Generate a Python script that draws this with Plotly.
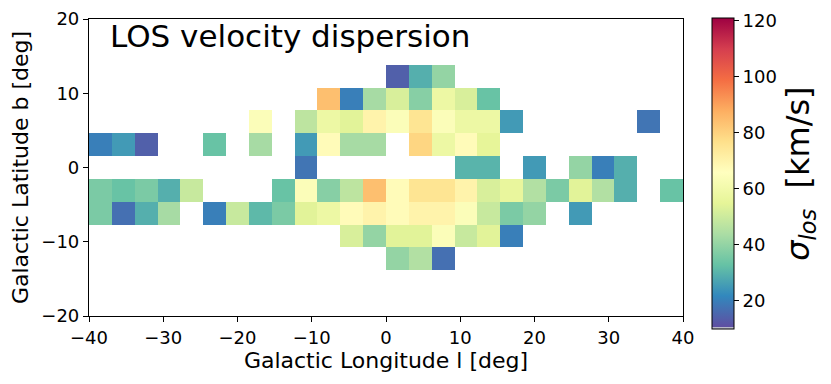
import numpy as np
import plotly.graph_objects as go
from plotly.colors import diverging

N = None

# bin grid: 26 x 13 square cells over l in [-40, 40], b in [-20, 20]
l_edges = np.linspace(-40, 40, 27)
b_edges = np.linspace(-20, 20, 14)

# sigma_los [km/s] per latitude row, listed from l = -40 to l = +40
row_b_m18 = [N] * 26
row_b_m15 = [N] * 26
row_b_m12 = [N] * 13 + [40, 45, 17] + [N] * 10
row_b_m09 = [N] * 11 + [52, 40, 54, 54, 64, 49, 54, 20] + [N] * 7
row_b_m06 = [36, 17, 29, 43, N, 20, 49, 31, 36, 54, 58, 67, 70,
             67, 70, 70, 64, 49, 36, 40, N, 25, N, N, N, N]
row_b_m03 = [36, 33, 36, 29, 49, N, N, N, 33, 64, 38, 47, 84,
             67, 75, 75, 70, 52, 56, 45, 36, 54, 45, 29, N, 33]
row_b_p00 = [N] * 9 + [18] + [N] * 6 + [30, 30, N, 25, N, 40, 20, 29] + [N] * 2
row_b_p03 = [20, 25, 14, N, N, 33, N, 43, N, 25, 67, 43, 43,
             N, 79, 58, 67, 55] + [N] * 8
row_b_p06 = [N] * 7 + [64, N, 47, 58, 54, 70, 64, 75, 64, 58, 58, 25] + [N] * 5 + [18, N]
row_b_p09 = [N] * 10 + [84, 20, 43, 52, 38, 58, 52, 33] + [N] * 8
row_b_p12 = [N] * 13 + [14, 29, 40] + [N] * 10
row_b_p15 = [N] * 26
row_b_p18 = [N] * 26

sigma = [row_b_m18, row_b_m15, row_b_m12, row_b_m09, row_b_m06, row_b_m03,
         row_b_p00, row_b_p03, row_b_p06, row_b_p09, row_b_p12, row_b_p15,
         row_b_p18]

cb_ticks = [20, 40, 60, 80, 100, 120]

# matplotlib Spectral_r, with a thin grey "under" strip at the bottom
spec = diverging.Spectral[::-1]
under = 0.0075
cscale = [[0.0, "#b9b9c9"], [under, "#b9b9c9"]]
for k, c in enumerate(spec):
    cscale.append([under + (1 - under) * k / (len(spec) - 1), c])

FONT = "DejaVu Sans"

fig = go.Figure(go.Heatmap(
    x=l_edges, y=b_edges, z=sigma,
    colorscale=cscale, zmin=9.8, zmax=120.8,
    hoverongaps=False,
    colorbar=dict(
        x=1.048, xanchor="left", xpad=0,
        y=0.4795, yanchor="middle", ypad=0,
        lenmode="pixels", len=311, thickness=22,
        outlinecolor="black", outlinewidth=1,
        tickvals=cb_ticks, ticks="outside", ticklen=5, tickcolor="black",
        tickfont=dict(family=FONT, size=18, color="black"),
        title=dict(text="<i>σ</i><sub><i>los</i></sub>  [km/s]", side="right",
                   font=dict(family=FONT, size=32, color="black")),
    ),
))

axis_common = dict(
    showgrid=False, zeroline=False, showline=True, mirror=True,
    linecolor="black", linewidth=1.2,
    ticks="outside", ticklen=5, tickwidth=1.2, tickcolor="black",
    tickfont=dict(family=FONT, size=18, color="black"),
)

fig.update_xaxes(range=[-40, 40], tickvals=list(range(-40, 41, 10)),
                 title=dict(text="Galactic Longitude l [deg]", standoff=4,
                            font=dict(family=FONT, size=22, color="black")),
                 **axis_common)
fig.update_yaxes(range=[-20, 20], tickvals=list(range(-20, 21, 10)),
                 title=dict(text="Galactic Latitude b [deg]", standoff=10,
                            font=dict(family=FONT, size=22, color="black")),
                 **axis_common)

fig.add_annotation(
    text="LOS velocity dispersion", xref="paper", yref="paper",
    x=0.032, y=0.943, xanchor="left", yanchor="middle", showarrow=False,
    font=dict(family=FONT, size=31, color="black"),
)

# the page body adds an 8px offset, so the figure is 8px smaller than the window
fig.update_layout(
    width=823, height=376,
    margin=dict(l=81, r=148, t=11, b=68, autoexpand=False),
    plot_bgcolor="white", paper_bgcolor="white",
    font=dict(family=FONT, color="black"),
)

fig.write_html("out.html")
